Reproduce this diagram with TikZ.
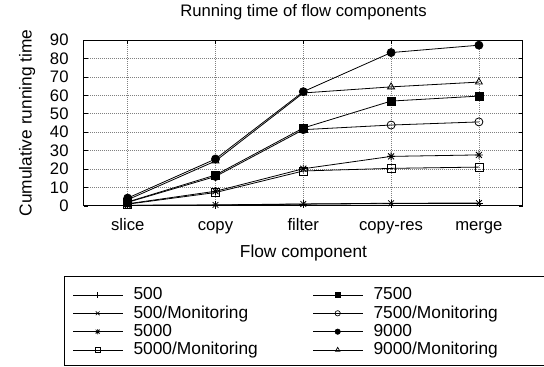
\documentclass[tikz,border=0pt]{standalone}
\usepackage{fontspec}
\setmainfont{Liberation Sans}
\usetikzlibrary{plotmarks}

\pgfdeclareplotmark{gpstar}{%
  \pgfpathmoveto{\pgfqpoint{-\pgfplotmarksize}{0pt}}\pgfpathlineto{\pgfqpoint{\pgfplotmarksize}{0pt}}%
  \pgfpathmoveto{\pgfqpoint{0pt}{-\pgfplotmarksize}}\pgfpathlineto{\pgfqpoint{0pt}{\pgfplotmarksize}}%
  \pgfpathmoveto{\pgfqpoint{-.75\pgfplotmarksize}{-.75\pgfplotmarksize}}\pgfpathlineto{\pgfqpoint{.75\pgfplotmarksize}{.75\pgfplotmarksize}}%
  \pgfpathmoveto{\pgfqpoint{-.75\pgfplotmarksize}{.75\pgfplotmarksize}}\pgfpathlineto{\pgfqpoint{.75\pgfplotmarksize}{-.75\pgfplotmarksize}}%
  \pgfusepathqstroke}

\tikzset{
  gridline/.style={gray, densely dotted, line width=0.5pt},
  frameline/.style={line width=0.75pt},
  series/.style={line width=0.6pt, mark size=3pt, mark options={solid, line width=0.6pt}},
  keymark/.style={line width=0.6pt, mark size=2pt, mark options={solid, line width=0.5pt}},
  ticklabel/.style={font=\fontsize{12.5}{14}\selectfont, inner sep=0pt},
  axislabel/.style={font=\fontsize{13}{15}\selectfont, inner sep=0pt},
  keytext/.style={font=\fontsize{13}{15}\selectfont, inner sep=0pt, anchor=base west},
}

\begin{document}
\begin{tikzpicture}[x=0.75pt, y=0.75pt]
\useasboundingbox (0,0) rectangle (544,367);
\clip (0,0) rectangle (544,367);

\node[axislabel, font=\fontsize{12.5}{14}\selectfont, anchor=base] (title) at (303.5,350.3) {Running time of flow components};
\node[axislabel, anchor=base, rotate=90] (ylabel) at (31.5,244) {Cumulative running time};
\node[axislabel, anchor=base] (xlabel) at (303.5,109) {Flow component};

\begin{scope}[shift={(127.7,161)}, x=65.85pt, y=1.383pt]
  \foreach \v in {10,20,...,80}
    \draw[gridline] (-0.5,\v) -- (4.5,\v);
  \foreach \i in {0,...,4}
    \draw[gridline] (\i,0) -- (\i,90);
  \foreach \v in {0,10,...,90} {
    \draw[line width=0.6pt] (-0.5,\v) -- (-0.4544,\v);
    \draw[line width=0.6pt] (4.5,\v) -- (4.4544,\v);
    \node[ticklabel, anchor=east, xshift=-11.25pt] (yl\v) at (-0.5,\v) {\v};
  }
  \foreach \i/\name in {0/slice, 1/copy, 2/filter, 3/copy-res, 4/merge} {
    \draw[line width=0.6pt] (\i,0) -- (\i,2.17);
    \draw[line width=0.6pt] (\i,90) -- (\i,87.83);
    \node[ticklabel, anchor=base, yshift=-18.75pt] (xl\i) at (\i,0) {\name};
  }
  \draw[frameline] (-0.5,0) rectangle (4.5,90);

  \draw[series] plot[mark=+] coordinates {(0,0.3) (1,0.5) (2,1.0) (3,1.3) (4,1.4)};
  \draw[series] plot[mark=x] coordinates {(0,0.4) (1,0.6) (2,1.1) (3,1.5) (4,1.6)};
  \draw[series] plot[mark=gpstar] coordinates {(0,1.2) (1,8.0) (2,20.2) (3,26.9) (4,27.7)};
  \draw[series] plot[mark=square] coordinates {(0,1.0) (1,7.3) (2,19.0) (3,20.4) (4,21.1)};
  \draw[series] plot[mark=square*] coordinates {(0,2.2) (1,16.8) (2,42.3) (3,56.9) (4,59.6)};
  \draw[series] plot[mark=o] coordinates {(0,2.0) (1,16.0) (2,41.4) (3,43.9) (4,45.6)};
  \draw[series] plot[mark=*] coordinates {(0,4.3) (1,25.5) (2,62.0) (3,83.2) (4,87.2)};
  \draw[series] plot[mark=triangle] coordinates {(0,3.4) (1,24.4) (2,61.3) (3,64.6) (4,67.2)};
\end{scope}

\draw[frameline] (64,1) rectangle (560,90.3);
\foreach \m/\t/\xo/\yy in {+/500/0/72, x/{500/Monitoring}/0/53.7, gpstar/5000/0/35.3, square/{5000/Monitoring}/0/17,
    square*/7500/240/72, o/{7500/Monitoring}/240/53.7, */9000/240/35.3, triangle/{9000/Monitoring}/240/17} {
  \draw[keymark] (73.3+\xo,\yy) -- (123.3+\xo,\yy);
  \path[keymark] plot[mark=\m] coordinates {(97.7+\xo,\yy)};
  \node[keytext] at (133.3+\xo,\yy-5) {\t};
}
\end{tikzpicture}
\end{document}
